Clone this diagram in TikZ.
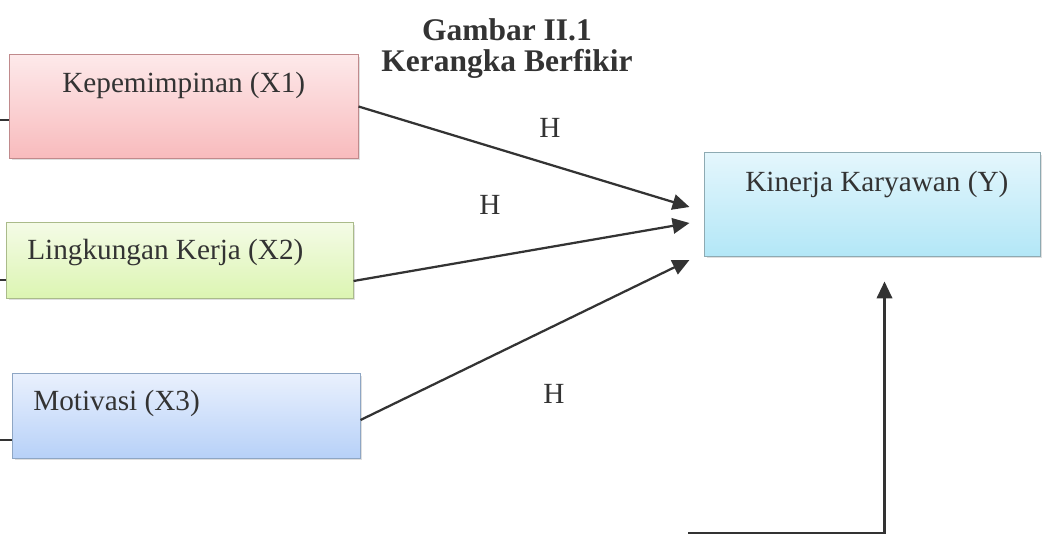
\documentclass[tikz,border=0pt]{standalone}
\usepackage{fontspec}
\setmainfont{Liberation Serif}
\usetikzlibrary{calc}
\usetikzlibrary{arrows.meta}
\usetikzlibrary{shadows}
\usetikzlibrary{positioning}

\definecolor{teks}{HTML}{333333}
\definecolor{merahA}{HTML}{FDE9EA}
\definecolor{merahB}{HTML}{F8BBBD}
\definecolor{merahG}{HTML}{C08A8C}
\definecolor{hijauA}{HTML}{F4FBE6}
\definecolor{hijauB}{HTML}{DCF5B2}
\definecolor{hijauG}{HTML}{AABB8A}
\definecolor{biruA}{HTML}{E9F0FD}
\definecolor{biruB}{HTML}{B7D1F8}
\definecolor{biruG}{HTML}{8EA6C4}
\definecolor{tosqA}{HTML}{E4F6FC}
\definecolor{tosqB}{HTML}{B3E7F7}
\definecolor{tosqG}{HTML}{8EAAB2}

\tikzset{
  kotak/.style={draw, line width=0.7pt, inner sep=0pt,
    drop shadow={opacity=0.25, shadow xshift=1.5pt, shadow yshift=-1.5pt}},
  teksvar/.style={text=teks, anchor=west, inner sep=0pt,
    font=\fontsize{20.8}{25}\selectfont},
  panah/.style={draw=teks, line width=1.6pt, -{Triangle[length=12pt, width=11pt]}},
  garis/.style={draw=teks, line width=1.2pt}
}

\begin{document}
\begin{tikzpicture}[x=0.025cm, y=-0.025cm]
  \useasboundingbox (0,0) rectangle (1046,536);

  % judul
  \node[text=teks, align=center, font=\fontsize{22.4}{22}\bfseries] (judul) at (507,49)
    {Gambar II.1\\Kerangka Berfikir};

  % kotak variabel
  \node[kotak, draw=merahG, top color=merahA, bottom color=merahB,
    minimum width=8.7cm, minimum height=2.575cm] (kep) at (184,106.5) {};
  \node[kotak, draw=hijauG, top color=hijauA, bottom color=hijauB,
    minimum width=8.65cm, minimum height=1.875cm] (lk) at (180,260.5) {};
  \node[kotak, draw=biruG, top color=biruA, bottom color=biruB,
    minimum width=8.675cm, minimum height=2.1cm] (mot) at (186.5,416) {};
  \node[kotak, draw=tosqG, top color=tosqA, bottom color=tosqB,
    minimum width=8.375cm, minimum height=2.575cm] (kin) at (872.5,204.5) {};

  \node[teksvar] (kept) at (62,85) {Kepemimpinan (X1)};
  \node[teksvar] (lkt) at (27,253) {Lingkungan Kerja (X2)};
  \node[teksvar] (mott) at (33,403) {Motivasi (X3)};
  \node[teksvar] (kint) at (745,185) {Kinerja Karyawan (Y)};

  % hipotesis
  \node[teksvar, anchor=center] (h1) at (550,128) {H};
  \node[teksvar, anchor=center] (h2) at (490,205) {H};
  \node[teksvar, anchor=center] (h3) at (554,394) {H};

  % panah
  \draw[panah] (kep.east) -- ($(kin.west)+(-15,2.5)$);
  \draw[panah] ($(lk.east)+(0,20.5)$) -- ($(kin.west)+(-15,18.5)$);
  \draw[panah] ($(mot.east)+(0,4)$) -- ($(kin.west)+(-15,55.5)$);

  \coordinate (ktip) at ($(kin.south)+(12,25)$);
  \coordinate (bawah) at (688,533);
  \draw[panah] (bawah) -- (bawah -| ktip) -- (ktip);

  % garis kiri
  \coordinate (kiri1) at (0,120);
  \coordinate (kiri2) at (0,280);
  \coordinate (kiri3) at (0,440);
  \draw[garis] (kiri1) -- (kiri1 -| kep.west);
  \draw[garis] (kiri2) -- (kiri2 -| lk.west);
  \draw[garis] (kiri3) -- (kiri3 -| mot.west);
\end{tikzpicture}
\end{document}
